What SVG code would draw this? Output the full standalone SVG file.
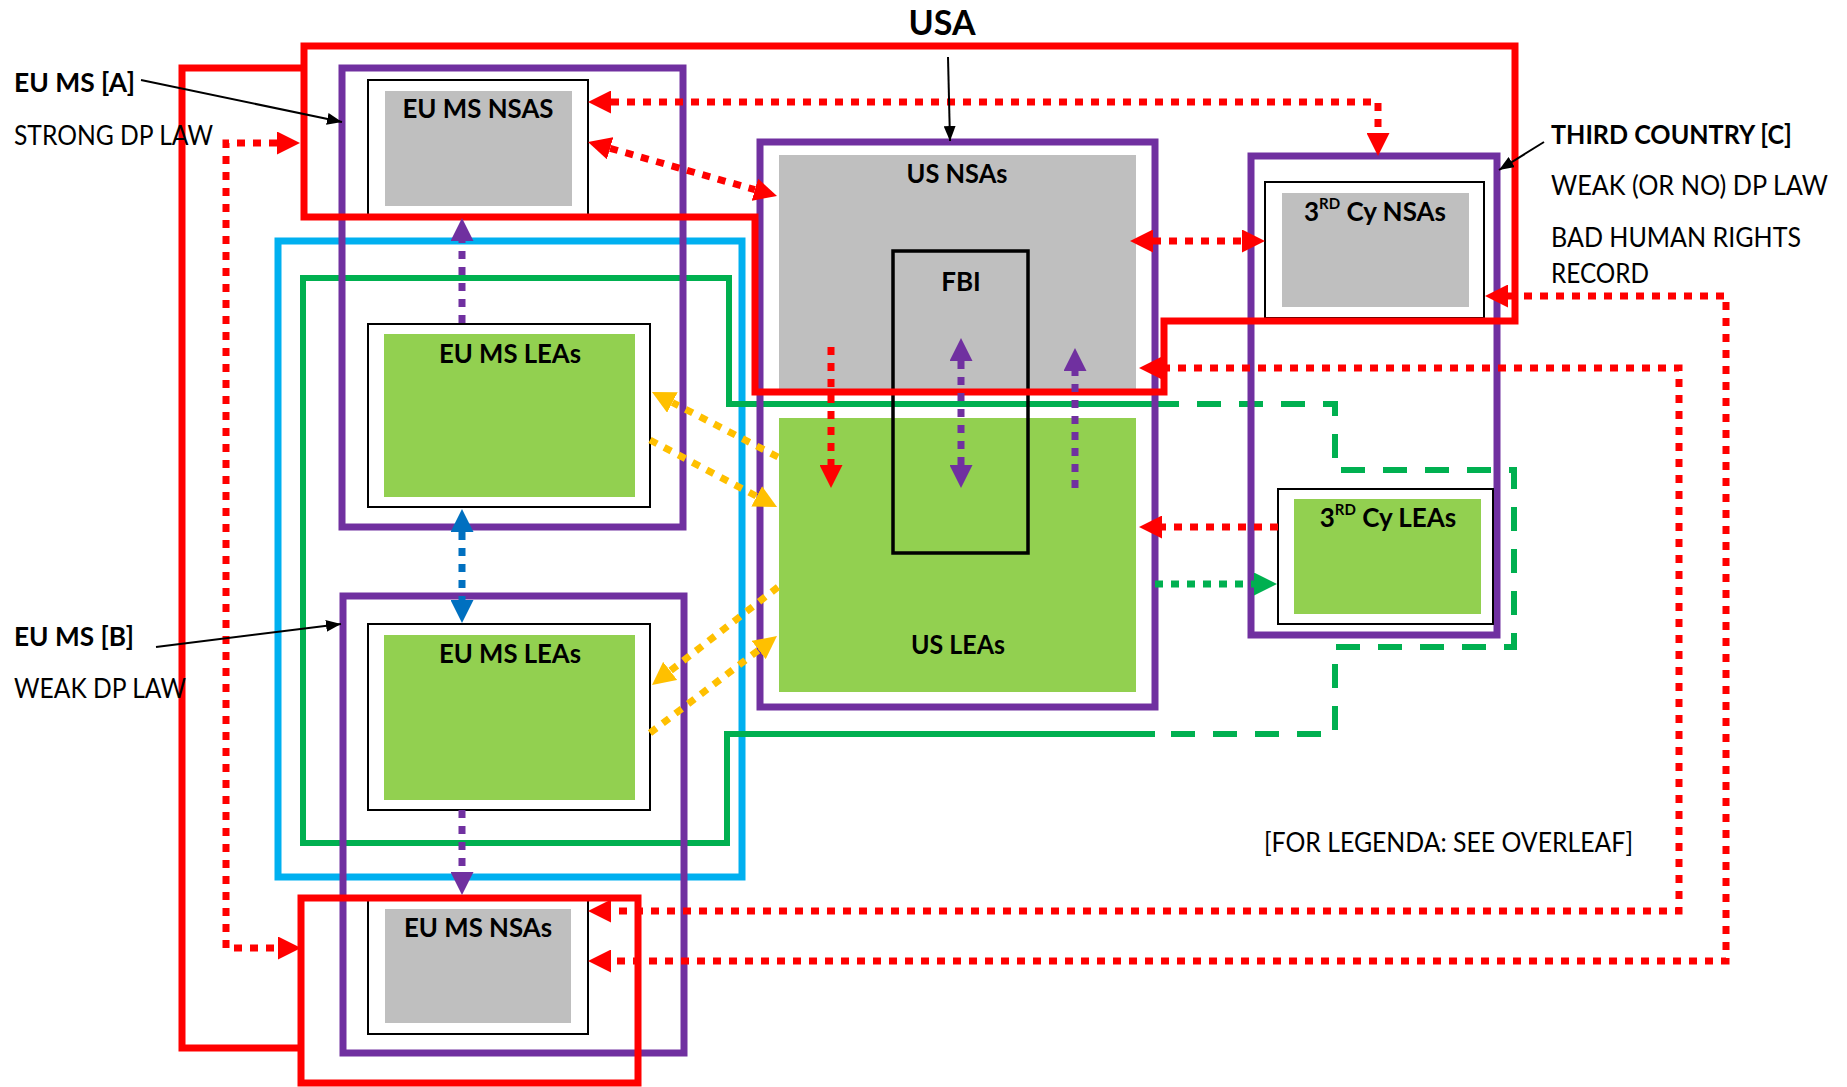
<svg xmlns="http://www.w3.org/2000/svg" width="1847" height="1087" viewBox="0 0 1847 1087">
<style>
.lbl{font-family:Lato,"Liberation Sans",sans-serif;font-size:26px;fill:#000}
.b{font-weight:bold}
.nl{font-family:Lato,"Liberation Sans",sans-serif;font-size:26px;font-weight:bold;fill:#000;text-anchor:middle}
.sup{font-size:15px}
.box{fill:#fff;stroke:#000;stroke-width:2}
.grey{fill:#BFBFBF}
.lea{fill:#92D050}
.pur{fill:none;stroke:#7030A0;stroke-width:7}
.red{fill:none;stroke:#FF0000;stroke-width:7}
.dot{fill:none;stroke-width:7;stroke-dasharray:8 8}
.thin{fill:none;stroke:#000;stroke-width:2}
</style>
<defs>
<marker id="mr" markerUnits="userSpaceOnUse" markerWidth="23" markerHeight="23" refX="0" refY="11.5" orient="auto-start-reverse"><path d="M0,0 L23,11.5 L0,23 z" fill="#FF0000"/></marker>
<marker id="mp" markerUnits="userSpaceOnUse" markerWidth="23" markerHeight="23" refX="0" refY="11.5" orient="auto-start-reverse"><path d="M0,0 L23,11.5 L0,23 z" fill="#7030A0"/></marker>
<marker id="mb" markerUnits="userSpaceOnUse" markerWidth="23" markerHeight="23" refX="0" refY="11.5" orient="auto-start-reverse"><path d="M0,0 L23,11.5 L0,23 z" fill="#0070C0"/></marker>
<marker id="my" markerUnits="userSpaceOnUse" markerWidth="23" markerHeight="23" refX="0" refY="11.5" orient="auto-start-reverse"><path d="M0,0 L23,11.5 L0,23 z" fill="#FFC000"/></marker>
<marker id="mg" markerUnits="userSpaceOnUse" markerWidth="23" markerHeight="23" refX="0" refY="11.5" orient="auto-start-reverse"><path d="M0,0 L23,11.5 L0,23 z" fill="#00B050"/></marker>
<marker id="mk" markerUnits="userSpaceOnUse" markerWidth="15" markerHeight="12" refX="15" refY="6" orient="auto"><path d="M0,0 L15,6 L0,12 z" fill="#000"/></marker>
</defs>
<rect width="1847" height="1087" fill="#fff"/>

<g id="regions">
<rect id="eu-cyan" x="278" y="241" width="464" height="636" fill="none" stroke="#00B0F0" stroke-width="7"/>
<path id="green-solid" d="M1155,404 L729,404 L729,278 L303,278 L303,843 L727,843 L727,734 L1155,734" fill="none" stroke="#00B050" stroke-width="6"/>
<path id="green-dashed" d="M1155,404 L1335,404 L1335,470 L1514,470 L1514,647 L1335,647 L1335,734 L1155,734" fill="none" stroke="#00B050" stroke-width="6" stroke-dasharray="24 18"/>
<path id="eu-bracket" class="red" d="M303,68 L182,68 L182,1048 L301,1048"/>
</g>

<g id="eu-ms-a"><rect class="pur" x="342" y="68" width="341" height="459"/></g>
<g id="eu-ms-b"><rect class="pur" x="343" y="596" width="341" height="457"/></g>
<g id="usa-box"><rect class="pur" x="760" y="142" width="395" height="565"/></g>
<g id="third-country"><rect class="pur" x="1251" y="156" width="246" height="479"/></g>

<g id="eu-ms-nsas-a">
<rect class="box" x="368" y="80" width="220" height="135"/>
<rect class="grey" x="385" y="91" width="187" height="115"/>
<text class="nl" x="478" y="118" textLength="151" lengthAdjust="spacingAndGlyphs">EU MS NSAS</text>
</g>
<g id="eu-ms-leas-a">
<rect class="box" x="368" y="324" width="282" height="183"/>
<rect class="lea" x="384" y="334" width="251" height="163"/>
<text class="nl" x="510" y="363" textLength="142" lengthAdjust="spacingAndGlyphs">EU MS LEAs</text>
</g>
<g id="eu-ms-leas-b">
<rect class="box" x="368" y="624" width="282" height="186"/>
<rect class="lea" x="384" y="635" width="251" height="165"/>
<text class="nl" x="510" y="663" textLength="142" lengthAdjust="spacingAndGlyphs">EU MS LEAs</text>
</g>
<g id="eu-ms-nsas-b">
<rect class="box" x="368" y="900" width="220" height="134"/>
<rect class="grey" x="385" y="909" width="186" height="114"/>
<text class="nl" x="478" y="937" textLength="148" lengthAdjust="spacingAndGlyphs">EU MS NSAs</text>
</g>
<g id="us-nsas">
<rect class="grey" x="779" y="155" width="357" height="237"/>
<text class="nl" x="957" y="183" textLength="101" lengthAdjust="spacingAndGlyphs">US NSAs</text>
</g>
<g id="us-leas">
<rect class="lea" x="779" y="418" width="357" height="274"/>
<text class="nl" x="958" y="654" textLength="94" lengthAdjust="spacingAndGlyphs">US LEAs</text>
</g>
<g id="fbi">
<rect x="893" y="251" width="135" height="302" fill="none" stroke="#000" stroke-width="3.5"/>
<text class="nl" x="961" y="291">FBI</text>
</g>
<g id="third-nsas">
<rect class="box" x="1265" y="182" width="219" height="136"/>
<rect class="grey" x="1282" y="193" width="187" height="114"/>
<text class="nl" x="1375" y="221">3<tspan class="sup" dy="-12">RD</tspan><tspan dy="12"> Cy NSAs</tspan></text>
</g>
<g id="third-leas">
<rect class="box" x="1278" y="489" width="215" height="135"/>
<rect class="lea" x="1294" y="499" width="187" height="115"/>
<text class="nl" x="1388" y="527">3<tspan class="sup" dy="-12">RD</tspan><tspan dy="12"> Cy LEAs</tspan></text>
</g>

<g id="red-overlays">
<path id="usa-red" class="red" d="M304,46 L1515,46 L1515,321 L1164,321 L1164,392 L755,392 L755,217 L304,217 Z"/>
<rect id="eu-ms-b-nsa-red" class="red" x="301" y="898" width="337" height="185"/>
</g>

<g id="labels">
<text class="lbl b" x="942" y="35" text-anchor="middle" style="font-size:34px">USA</text>
<text class="lbl b" x="14" y="92" textLength="121" lengthAdjust="spacingAndGlyphs">EU MS [A]</text>
<text class="lbl" x="14" y="145" textLength="199" lengthAdjust="spacingAndGlyphs">STRONG DP LAW</text>
<text class="lbl b" x="14" y="646" textLength="120" lengthAdjust="spacingAndGlyphs">EU MS [B]</text>
<text class="lbl" x="14" y="698" textLength="172" lengthAdjust="spacingAndGlyphs">WEAK DP LAW</text>
<text class="lbl b" x="1551" y="144" textLength="241" lengthAdjust="spacingAndGlyphs">THIRD COUNTRY [C]</text>
<text class="lbl" x="1551" y="195" textLength="277" lengthAdjust="spacingAndGlyphs">WEAK (OR NO) DP LAW</text>
<text class="lbl" x="1551" y="247" textLength="250" lengthAdjust="spacingAndGlyphs">BAD HUMAN RIGHTS</text>
<text class="lbl" x="1551" y="283" textLength="98" lengthAdjust="spacingAndGlyphs">RECORD</text>
<text class="lbl" x="1264" y="852" textLength="369" lengthAdjust="spacingAndGlyphs">[FOR LEGENDA: SEE OVERLEAF]</text>
</g>

<g id="connectors">
<path class="dot" stroke="#FF0000" marker-start="url(#mr)" marker-end="url(#mr)" d="M611,102 L1378,102 L1378,133"/>
<path class="dot" stroke="#FF0000" marker-start="url(#mr)" marker-end="url(#mr)" d="M610.1,148.3 L754.9,189.7"/>
<path class="dot" stroke="#FF0000" marker-start="url(#mr)" marker-end="url(#mr)" d="M277,143 L226,143 L226,948 L278,948"/>
<path class="dot" stroke="#FF0000" marker-start="url(#mr)" marker-end="url(#mr)" d="M1153,241 L1242,241"/>
<path class="dot" stroke="#FF0000" marker-start="url(#mr)" marker-end="url(#mr)" d="M1508,296 L1726,296 L1726,961 L611,961"/>
<path class="dot" stroke="#FF0000" marker-start="url(#mr)" marker-end="url(#mr)" d="M1162,368 L1679,368 L1679,911 L611,911"/>
<path class="dot" stroke="#FF0000" marker-end="url(#mr)" d="M831,347 L831,465"/>
<path class="dot" stroke="#7030A0" marker-start="url(#mp)" marker-end="url(#mp)" d="M961,361 L961,465"/>
<path class="dot" stroke="#7030A0" marker-end="url(#mp)" d="M1075,488 L1075,371"/>
<path class="dot" stroke="#FF0000" marker-end="url(#mr)" d="M1278,527 L1162,527"/>
<path class="dot" stroke="#00B050" marker-end="url(#mg)" d="M1155,584 L1254,584"/>
<path class="dot" stroke="#7030A0" marker-end="url(#mp)" d="M462,323 L462,241"/>
<path class="dot" stroke="#0070C0" marker-start="url(#mb)" marker-end="url(#mb)" d="M462,532 L462,600"/>
<path class="dot" stroke="#7030A0" marker-end="url(#mp)" d="M462,810 L462,872"/>
<path class="dot" stroke="#FFC000" marker-end="url(#my)" d="M778,457 L672.4,402.5"/>
<path class="dot" stroke="#FFC000" marker-end="url(#my)" d="M650,440 L756.7,496.3"/>
<path class="dot" stroke="#FFC000" marker-end="url(#my)" d="M778,587 L670.2,670.9"/>
<path class="dot" stroke="#FFC000" marker-end="url(#my)" d="M650,733 L758.7,650"/>
<path class="thin" marker-end="url(#mk)" d="M141,80 L342,122"/>
<path class="thin" marker-end="url(#mk)" d="M156,647 L341,624"/>
<path class="thin" marker-end="url(#mk)" d="M948,57 L950,141"/>
<path class="thin" marker-end="url(#mk)" d="M1544,142 L1499,170"/>
</g>
</svg>
